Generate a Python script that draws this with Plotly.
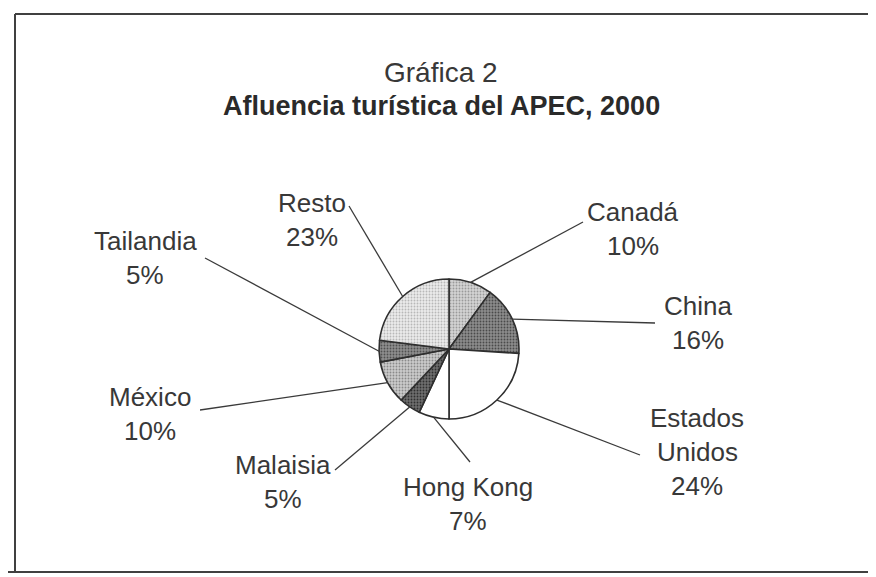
import math
import plotly.graph_objects as go

# ---- data ----
countries = ["Canadá", "China", "Estados Unidos", "Hong Kong", "Malaisia", "México", "Tailandia", "Resto"]
shares = [10, 16, 24, 7, 5, 10, 5, 23]
display_lines = [["Canadá"], ["China"], ["Estados", "Unidos"], ["Hong Kong"], ["Malaisia"], ["México"], ["Tailandia"], ["Resto"]]
title_line1 = "Gráfica 2"
title_line2 = "Afluencia turística del APEC, 2000"

# ---- styling / layout ----
W, H = 876, 577
OFF = 8  # page body margin
CX, CY, R = 449, 349, 70
fills = ["#d4d4d4", "#8c8c8c", "#ffffff", "#ffffff", "#6e6e6e", "#cbcbcb", "#8e8e8e", "#ebebeb"]
dots = ["#9a9a9a", "#4a4a4a", "#ffffff", "#ffffff", "#303030", "#8a8a8a", "#505050", "#b8b8b8"]
label_pos = [(633, 212), (698, 306), (697, 418), (468, 487), (283, 465), (150, 397), (145, 241), (312, 203)]
leader_end = [(583, 222), (655, 323), (640, 455), (470, 462), (335, 470), (200, 410), (205, 258), (349, 206)]
LINE_GAP = 34
TXT = "#383838"
FONT = "Liberation Sans, Arial, sans-serif"


def px(x):
    return (x - OFF) / W


def py(y):
    return 1 - (y - OFF) / H


fig = go.Figure(go.Pie(
    labels=countries, values=shares, sort=False, direction="clockwise", rotation=0,
    textinfo="none", hoverinfo="skip", showlegend=False,
    marker=dict(colors=fills, line=dict(color="#2e2e2e", width=1.6),
                pattern=dict(shape=["." if c != "#ffffff" else "" for c in fills],
                             fgcolor=dots, bgcolor=fills, size=3, solidity=0.3, fillmode="replace")),
    domain=dict(x=[px(CX - R), px(CX + R)], y=[py(CY + R), py(CY - R)]),
))

shapes = []
annotations = []
total = sum(shares)
cum = 0
for i, v in enumerate(shares):
    mid = (cum + v / 2) / total * 2 * math.pi
    cum += v
    sx = CX + R * math.sin(mid)
    sy = CY - R * math.cos(mid)
    ex, ey = leader_end[i]
    shapes.append(dict(type="line", xref="paper", yref="paper", x0=px(sx), y0=py(sy), x1=px(ex), y1=py(ey),
                       line=dict(color="#3a3a3a", width=1.3)))
    lx, ly = label_pos[i]
    lines = display_lines[i] + [f"{v}%"]
    for j, t in enumerate(lines):
        annotations.append(dict(text=t, x=px(lx), y=py(ly + j * LINE_GAP), xref="paper", yref="paper",
                                showarrow=False, xanchor="center", yanchor="middle",
                                font=dict(family=FONT, size=26, color=TXT)))

annotations.append(dict(text=title_line1, x=px(441), y=py(73), xref="paper", yref="paper", showarrow=False,
                        xanchor="center", yanchor="middle", font=dict(family=FONT, size=28, color=TXT)))
annotations.append(dict(text=f"<b>{title_line2}</b>", x=px(441), y=py(106), xref="paper", yref="paper",
                        showarrow=False, xanchor="center", yanchor="middle",
                        font=dict(family=FONT, size=27, color="#2a2a2a")))

# frame
frame = "#404040"
shapes += [
    dict(type="line", xref="paper", yref="paper", x0=px(15), y0=py(14), x1=px(876), y1=py(14), line=dict(color=frame, width=2)),
    dict(type="line", xref="paper", yref="paper", x0=px(15), y0=py(14), x1=px(15), y1=py(572), line=dict(color=frame, width=2)),
    dict(type="line", xref="paper", yref="paper", x0=px(5), y0=py(572), x1=px(876), y1=py(572), line=dict(color=frame, width=2)),
]

fig.update_layout(width=W, height=H, margin=dict(l=0, r=0, t=0, b=0), paper_bgcolor="white",
                  plot_bgcolor="white", shapes=shapes, annotations=annotations)
fig.write_html("out.html")
